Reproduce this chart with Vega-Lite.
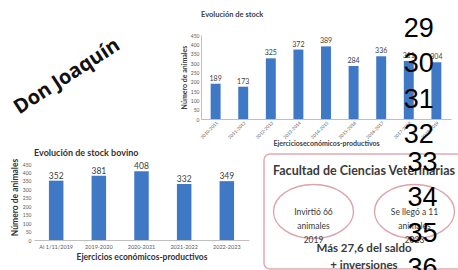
{
  "$schema": "https://vega.github.io/schema/vega-lite/v6.json",
  "padding": {"left": 10, "top": 10, "right": 0, "bottom": 0},
  "background": "white",
  "config": {"view": {"stroke": null}, "font": "Lato"},
  "datasets": {
    "stock": [
      {"ejercicio": "2010-2011", "animales": 189},
      {"ejercicio": "2011-2012", "animales": 173},
      {"ejercicio": "2012-2013", "animales": 325},
      {"ejercicio": "2013-2014", "animales": 372},
      {"ejercicio": "2014-2015", "animales": 389},
      {"ejercicio": "2015-2016", "animales": 284},
      {"ejercicio": "2016-2017", "animales": 336},
      {"ejercicio": "2017-2018", "animales": 311},
      {"ejercicio": "2018-2019", "animales": 304}
    ],
    "bovino": [
      {"ejercicio": "Al 1/11/2019", "animales": 352},
      {"ejercicio": "2019-2020", "animales": 381},
      {"ejercicio": "2020-2021", "animales": 408},
      {"ejercicio": "2021-2022", "animales": 332},
      {"ejercicio": "2022-2023", "animales": 349}
    ],
    "pages": [
      {"page": 29}, {"page": 30}, {"page": 31}, {"page": 32},
      {"page": 33}, {"page": 34}, {"page": 35}, {"page": 36}
    ],
    "don": [{"label": "Don Joaquín"}],
    "box": [
      {"kind": "heading", "pos": "center", "row": "top", "text": "Facultad de Ciencias Veterinarias"},
      {"kind": "oval", "pos": "left", "row": "middle", "text": "Invirtió 66\nanimales\n2019"},
      {"kind": "oval", "pos": "right", "row": "middle", "text": "Se llegó a 11\nanimales\n2023"},
      {"kind": "note", "pos": "center", "row": "bottom", "text": "Más 27,6 del saldo\n+ inversiones"}
    ]
  },
  "vconcat": [
    {
      "hconcat": [
        {
          "data": {"name": "don"},
          "width": 66,
          "height": 83,
          "mark": {"type": "text", "angle": -33, "fontSize": 20, "fontWeight": "bold", "font": "Open Sans", "color": "#111111", "align": "center", "baseline": "middle"},
          "encoding": {
            "x": {"field": "label", "type": "nominal", "axis": null},
            "y": {"field": "label", "type": "nominal", "axis": null},
            "text": {"field": "label"}
          }
        },
        {
          "width": 250,
          "height": 84,
          "title": {"text": "Evolución de stock", "fontSize": 7.5, "fontWeight": "bold", "color": "#404040", "anchor": "start", "frame": "group", "offset": -3.5},
          "resolve": {"scale": {"y": "independent"}},
          "layer": [
            {
              "data": {"name": "stock"},
              "encoding": {
                "x": {
                  "field": "ejercicio", "type": "nominal", "sort": null,
                  "scale": {"paddingInner": 0.64, "paddingOuter": 0.35},
                  "axis": {"title": "Ejercicioseconómicos-productivos", "titleFontSize": 7, "titleFontWeight": "bold", "titleColor": "#404040", "titlePadding": 0, "labelAngle": -45, "labelFontSize": 4.5, "labelColor": "#595959", "ticks": false, "labelPadding": 1, "domainColor": "#bfbfbf"}
                },
                "y": {
                  "field": "animales", "type": "quantitative",
                  "scale": {"domain": [0, 450]},
                  "axis": {"title": "Número de animales", "titleFontSize": 7, "titleFontWeight": "bold", "titleColor": "#404040", "titlePadding": 3, "values": [0, 50, 100, 150, 200, 250, 300, 350, 400, 450], "labelFontSize": 5, "labelColor": "#595959", "ticks": false, "labelPadding": 2, "grid": false, "domainColor": "#bfbfbf"}
                }
              },
              "layer": [
                {"mark": {"type": "bar", "color": "#3f78c5"}},
                {"mark": {"type": "text", "dy": -5, "fontSize": 7, "color": "#404040"}, "encoding": {"text": {"field": "animales", "type": "quantitative"}}}
              ]
            },
            {
              "data": {"name": "pages"},
              "transform": [{"filter": "datum.page <= 32"}],
              "mark": {"type": "text", "font": "Liberation Sans", "fontSize": 27, "color": "#000000", "baseline": "middle", "dx": 10},
              "encoding": {
                "x": {"datum": "2017-2018"},
                "y": {"field": "page", "type": "quantitative", "axis": null, "scale": {"domain": [29.17, 31.55], "reverse": true, "zero": false, "nice": false}},
                "text": {"field": "page", "type": "quantitative"}
              }
            }
          ]
        }
      ],
      "spacing": 101,
      "bounds": "flush"
    },
    {
      "hconcat": [
        {
          "data": {"name": "bovino"},
          "width": 215,
          "height": 86,
          "title": {"text": "Evolución de stock bovino", "fontSize": 9, "fontWeight": "bold", "color": "#333333", "anchor": "start", "frame": "group", "offset": -4},
          "encoding": {
            "x": {
              "field": "ejercicio", "type": "nominal", "sort": null,
              "scale": {"paddingInner": 0.66, "paddingOuter": 0.35},
              "axis": {"title": "Ejercicios económicos-productivos", "titleFontSize": 8.5, "titleFontWeight": "bold", "titleColor": "#333333", "titlePadding": 3, "labelAngle": 0, "labelFontSize": 5.5, "labelColor": "#595959", "ticks": false, "labelPadding": 4, "domainColor": "#bfbfbf"}
            },
            "y": {
              "field": "animales", "type": "quantitative",
              "scale": {"domain": [0, 510], "nice": false},
              "axis": {"title": "Número de animales", "titleFontSize": 8.5, "titleFontWeight": "bold", "titleColor": "#333333", "titlePadding": 3, "values": [0, 50, 100, 150, 200, 250, 300, 350, 400, 450], "labelFontSize": 5, "labelColor": "#595959", "ticks": false, "labelPadding": 3, "grid": false, "domain": false}
            }
          },
          "layer": [
            {"mark": {"type": "bar", "color": "#3f78c5"}},
            {"mark": {"type": "text", "dy": -5, "fontSize": 8.5, "color": "#404040"}, "encoding": {"text": {"field": "animales", "type": "quantitative"}}}
          ]
        },
        {
          "width": 200,
          "height": 115,
          "view": {"stroke": "#e3aab0", "strokeWidth": 1.5, "cornerRadius": 6},
          "resolve": {"scale": {"y": "independent"}},
          "layer": [
            {
              "data": {"name": "box"},
              "encoding": {
                "x": {"field": "pos", "type": "nominal", "axis": null, "scale": {"type": "point", "domain": ["left", "center", "right"], "padding": 0.98}},
                "y": {"field": "row", "type": "nominal", "axis": null, "scale": {"type": "point", "domain": ["top", "middle", "bottom"], "padding": 0.42}}
              },
              "layer": [
                {
                  "transform": [{"filter": "datum.kind === 'oval'"}],
                  "mark": {"type": "point", "shape": "M -1 0 A 1 0.675 0 1 0 1 0 A 1 0.675 0 1 0 -1 0 Z", "size": 6400, "filled": false, "stroke": "#dca3aa", "strokeWidth": 1.3, "opacity": 1}
                },
                {
                  "transform": [{"filter": "datum.kind === 'heading'"}],
                  "mark": {"type": "text", "fontSize": 12.5, "fontWeight": "bold", "color": "#3a3a3a", "baseline": "middle"},
                  "encoding": {"text": {"field": "text"}}
                },
                {
                  "transform": [{"filter": "datum.kind === 'oval'"}],
                  "mark": {"type": "text", "fontSize": 8.5, "color": "#3a3a3a", "baseline": "middle", "lineBreak": "\n", "lineHeight": 14},
                  "encoding": {"text": {"field": "text"}}
                },
                {
                  "transform": [{"filter": "datum.kind === 'note'"}],
                  "mark": {"type": "text", "fontSize": 11.5, "fontWeight": "bold", "color": "#3a3a3a", "baseline": "middle", "lineBreak": "\n", "lineHeight": 17, "dy": -3},
                  "encoding": {"text": {"field": "text"}}
                }
              ]
            },
            {
              "data": {"name": "pages"},
              "transform": [{"filter": "datum.page >= 33"}],
              "mark": {"type": "text", "font": "Liberation Sans", "fontSize": 27, "color": "#000000", "baseline": "middle", "dx": 8},
              "encoding": {
                "x": {"datum": "right"},
                "y": {"field": "page", "type": "quantitative", "axis": null, "scale": {"domain": [32.745, 36.0], "reverse": true, "zero": false, "nice": false}},
                "text": {"field": "page", "type": "quantitative"}
              }
            }
          ]
        }
      ],
      "spacing": 14
    }
  ],
  "spacing": 0
}
